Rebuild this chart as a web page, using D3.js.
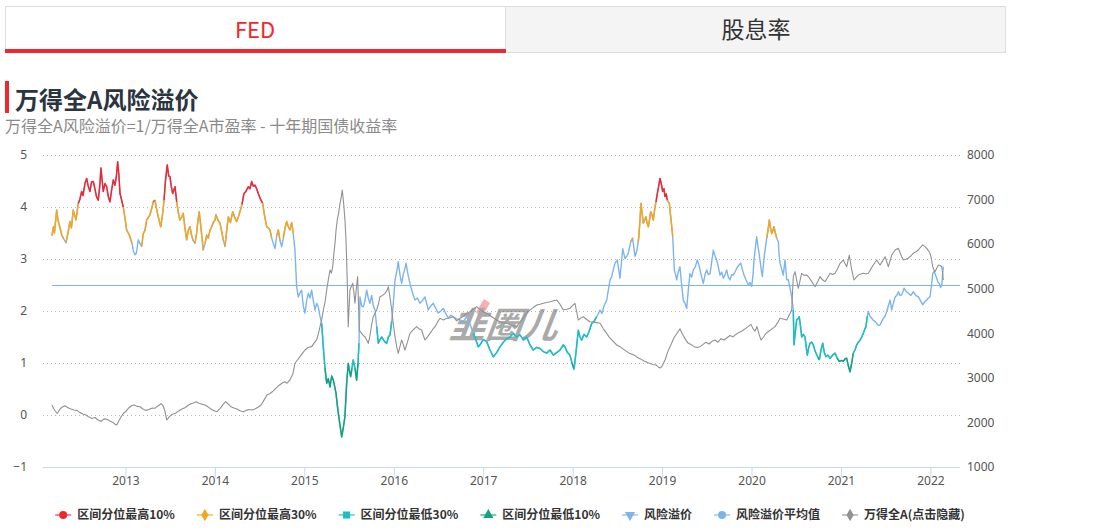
<!DOCTYPE html>
<html><head><meta charset="utf-8">
<script src="https://cdn.jsdelivr.net/npm/d3@7"></script>
<style>
body{margin:0;background:#fff;}
svg{font-family:"Noto Sans CJK SC","Noto Sans",sans-serif;}
</style></head>
<body><svg id="c" width="1109" height="530"></svg>
<script>
// ---------- DATA ----------
const tabLabels = ["FED", "股息率"];
const titleText = "万得全A风险溢价";
const subtitleText = "万得全A风险溢价=1/万得全A市盈率 - 十年期国债收益率";
const legendNames = ["区间分位最高10%","区间分位最高30%","区间分位最低30%","区间分位最低10%","风险溢价","风险溢价平均值","万得全A(点击隐藏)"];
const leftTicks = [-1,0,1,2,3,4,5];
const rightTicks = [1000,2000,3000,4000,5000,6000,7000,8000];
const yearTicks = [2013,2014,2015,2016,2017,2018,2019,2020,2021,2022];
const xDomain = [2012.078, 2022.331];
const meanValue = 2.49;

// risk premium (decimal year, %)
const erpDates = [
2012.178,2012.195,2012.206,2012.231,2012.245,2012.268,2012.290,2012.312,2012.335,2012.357,2012.379,2012.396,2012.416,2012.447,2012.472,2012.491,2012.510,2012.525,2012.547,2012.566,2012.581,2012.603,2012.620,2012.640,2012.659,2012.676,2012.696,2012.715,2012.726,2012.737,2012.752,2012.771,2012.790,2012.808,2012.827,2012.843,2012.864,2012.883,2012.899,2012.913,2012.927,2012.939,2012.955,2012.975,2012.994,
2013.013,2013.031,2013.050,2013.073,2013.089,2013.106,2013.123,2013.143,2013.162,2013.181,2013.199,2013.218,2013.237,2013.255,2013.274,2013.293,2013.311,2013.330,2013.349,2013.367,2013.394,2013.411,2013.431,2013.447,2013.467,2013.483,2013.498,2013.512,2013.528,2013.554,2013.573,2013.590,2013.609,2013.628,2013.646,2013.665,2013.684,2013.702,2013.721,2013.740,2013.758,2013.777,2013.796,2013.811,2013.825,2013.844,2013.870,2013.889,2013.908,2013.926,2013.945,2013.964,2013.982,
2014.001,2014.012,2014.034,2014.057,2014.079,2014.096,2014.113,2014.132,2014.150,2014.174,2014.199,2014.221,2014.243,2014.261,2014.280,2014.303,2014.325,2014.347,2014.373,2014.392,2014.411,2014.429,2014.448,2014.467,2014.485,2014.510,2014.534,2014.554,2014.579,2014.597,2014.616,2014.635,2014.653,2014.672,2014.691,2014.709,2014.728,2014.747,2014.765,2014.784,2014.803,2014.820,2014.839,2014.858,2014.876,2014.895,2014.914,2014.932,2014.951,2014.970,2014.988,
2015.007,2015.026,2015.044,2015.063,2015.082,2015.100,2015.119,2015.138,2015.156,2015.175,2015.194,2015.212,2015.231,2015.250,2015.268,2015.287,2015.306,2015.324,2015.339,2015.354,2015.368,2015.380,2015.399,2015.418,2015.435,2015.454,2015.473,2015.491,2015.505,2015.518,2015.533,2015.547,2015.566,2015.585,2015.600,2015.611,2015.622,2015.641,2015.659,2015.678,2015.697,2015.715,2015.734,2015.753,2015.771,2015.790,2015.809,2015.827,2015.846,2015.865,2015.883,2015.902,2015.921,2015.939,2015.958,2015.977,2015.995,
2016.014,2016.033,2016.050,2016.069,2016.088,2016.106,2016.122,2016.137,2016.159,2016.181,2016.209,2016.237,2016.265,2016.293,2016.321,2016.349,2016.386,2016.414,2016.442,2016.470,2016.498,2016.526,2016.554,2016.582,2016.610,2016.637,2016.665,2016.703,2016.740,2016.777,2016.815,2016.852,2016.889,2016.908,2016.927,2016.945,2016.964,
2017.001,2017.039,2017.076,2017.113,2017.151,2017.188,2017.225,2017.263,2017.299,2017.336,2017.374,2017.411,2017.448,2017.486,2017.523,2017.560,2017.598,2017.635,2017.672,2017.710,2017.747,2017.784,2017.822,2017.859,2017.895,2017.914,2017.942,2017.970,2017.993,
2018.015,2018.037,2018.063,2018.082,2018.101,2018.127,2018.157,2018.183,2018.213,2018.239,2018.269,2018.287,2018.306,2018.328,2018.351,2018.381,2018.399,2018.418,2018.437,2018.455,2018.474,2018.499,2018.515,2018.529,2018.544,2018.560,2018.585,2018.604,2018.622,2018.649,2018.671,2018.686,2018.697,2018.716,2018.734,2018.745,2018.753,2018.764,2018.775,2018.790,2018.806,2018.820,2018.831,2018.846,2018.859,2018.873,2018.887,2018.902,2018.913,2018.921,2018.932,2018.947,2018.962,2018.977,2018.991,
2019.007,2019.021,2019.033,2019.047,2019.058,2019.081,2019.094,2019.108,2019.119,2019.128,2019.137,2019.150,2019.163,2019.181,2019.200,2019.219,2019.237,2019.256,2019.275,2019.293,2019.312,2019.331,2019.349,2019.371,2019.394,2019.409,2019.424,2019.443,2019.461,2019.480,2019.499,2019.517,2019.536,2019.555,2019.573,2019.592,2019.611,2019.629,2019.648,2019.667,2019.685,2019.704,2019.723,2019.740,2019.759,2019.778,2019.796,2019.815,2019.834,2019.857,2019.879,2019.897,2019.916,2019.938,2019.964,2019.983,
2020.002,2020.017,2020.028,2020.042,2020.058,2020.076,2020.095,2020.108,2020.121,2020.131,2020.140,2020.154,2020.170,2020.184,2020.199,2020.212,2020.226,2020.240,2020.251,2020.266,2020.282,2020.300,2020.307,2020.319,2020.338,2020.355,2020.374,2020.394,2020.411,2020.430,2020.449,2020.467,2020.475,2020.490,2020.505,2020.520,2020.534,2020.548,2020.561,2020.579,2020.598,2020.612,2020.624,2020.640,2020.654,2020.673,2020.691,2020.707,2020.721,2020.740,2020.758,2020.777,2020.796,2020.814,2020.833,2020.855,2020.878,2020.906,2020.934,2020.956,2020.982,
2021.004,2021.026,2021.045,2021.064,2021.082,2021.101,2021.120,2021.138,2021.157,2021.176,2021.194,2021.213,2021.232,2021.250,2021.266,2021.280,2021.294,2021.306,2021.325,2021.344,2021.362,2021.381,2021.400,2021.418,2021.437,2021.456,2021.474,2021.493,2021.512,2021.530,2021.549,2021.568,2021.586,2021.605,2021.624,2021.642,2021.660,2021.679,2021.694,2021.705,2021.728,2021.753,2021.781,2021.809,2021.837,2021.865,2021.890,2021.914,2021.937,2021.959,2021.977,2021.996,
2022.013,2022.026,2022.041,2022.055,2022.071,2022.085,2022.100,2022.113,2022.127,2022.136,2022.145
];
const erpValues = [
3.45,3.62,3.5,3.94,3.75,3.6,3.45,3.38,3.31,3.5,3.72,3.6,3.94,3.75,4.07,4.15,4.3,4.22,4.45,4.55,4.42,4.3,4.48,4.49,4.35,4.2,4.13,4.45,4.75,4.55,4.3,4.45,4.39,4.2,4.1,4.3,4.52,4.42,4.6,4.87,4.6,4.26,4.15,4.0,3.8,
3.56,3.5,3.43,3.3,3.15,3.08,3.12,3.37,3.3,3.24,3.49,3.55,3.75,3.8,3.85,3.97,4.1,4.13,3.95,3.81,3.62,3.8,4.13,4.5,4.81,4.6,4.58,4.4,4.26,4.39,4.1,3.9,3.75,3.8,3.88,3.6,3.37,3.55,3.62,3.45,3.35,3.3,3.5,3.75,3.91,3.6,3.17,3.3,3.46,3.4,3.55,3.62,3.7,
3.75,3.85,3.75,3.69,3.5,3.35,3.24,3.55,3.81,3.7,3.91,3.8,3.72,3.8,3.91,4.05,4.26,4.3,4.39,4.35,4.49,4.4,4.42,4.35,4.26,4.15,4.07,3.85,3.62,3.6,3.56,3.4,3.3,3.2,3.45,3.56,3.35,3.24,3.4,3.6,3.72,3.62,3.56,3.7,3.49,3.17,2.47,2.27,2.35,2.4,2.1,
1.96,2.2,2.34,2.25,2.4,2.2,2.02,2.15,2.08,1.9,1.76,1.31,0.9,0.61,0.7,0.54,0.75,0.67,0.55,0.42,0.2,0.03,-0.2,-0.42,-0.25,-0.03,0.61,0.99,0.85,0.74,0.9,1.06,0.9,0.67,1.0,1.38,2.27,2.1,2.08,2.2,2.4,2.25,2.15,2.3,2.1,2.02,1.7,1.38,1.45,1.5,1.45,1.4,1.38,1.5,1.54,1.8,2.15,
2.6,2.75,2.95,2.7,2.53,2.7,2.8,2.92,2.7,2.53,2.35,2.21,2.25,2.15,2.2,2.27,2.02,2.1,2.15,2.05,1.96,2.0,2.05,1.95,1.86,1.92,1.89,1.85,1.83,1.8,1.89,1.75,1.57,1.5,1.4,1.31,1.35,
1.45,1.41,1.25,1.12,1.2,1.31,1.4,1.47,1.5,1.57,1.5,1.54,1.45,1.5,1.35,1.25,1.3,1.28,1.22,1.19,1.25,1.15,1.2,1.25,1.35,1.31,1.2,1.15,1.0,
0.88,1.2,1.63,1.5,1.44,1.55,1.5,1.6,1.76,1.8,1.89,1.95,2.02,1.95,2.1,2.21,2.4,2.6,2.66,2.8,2.92,2.98,2.8,2.63,2.9,3.2,3.01,3.05,3.11,3.33,3.4,3.2,3.05,3.15,3.33,3.55,3.75,4.07,3.9,3.69,3.75,3.81,3.7,3.62,3.75,3.91,3.85,3.75,3.9,4.0,4.1,4.26,4.4,4.55,4.45,
4.3,4.35,4.2,4.25,4.13,4.07,3.85,3.62,3.43,3.1,2.79,2.7,2.6,2.75,2.85,2.5,2.21,2.15,2.05,2.4,2.72,2.65,2.79,2.85,2.98,2.9,2.79,2.65,2.53,2.7,2.79,2.7,2.72,2.95,3.17,3.05,2.98,2.85,2.69,2.75,2.63,2.7,2.79,2.65,2.6,2.7,2.69,2.75,2.82,2.88,2.92,2.8,2.69,2.6,2.5,2.55,
2.47,2.7,2.98,3.2,3.43,3.2,2.98,2.8,2.66,2.85,3.01,3.2,3.4,3.55,3.75,3.6,3.49,3.55,3.62,3.5,3.4,3.33,3.1,2.92,2.8,2.69,2.98,2.6,2.6,2.45,2.27,2.02,1.35,1.6,1.83,1.85,1.89,1.7,1.5,1.55,1.5,1.3,1.15,1.3,1.38,1.4,1.35,1.25,1.19,1.12,1.06,1.25,1.38,1.2,1.12,1.15,1.09,1.15,1.19,1.1,1.03,
1.05,1.03,1.08,1.09,0.95,0.83,1.0,1.19,1.25,1.35,1.4,1.44,1.5,1.57,1.65,1.7,1.9,1.99,1.9,1.86,1.82,1.8,1.76,1.72,1.73,1.8,1.86,1.9,1.99,2.1,2.21,2.02,2.15,2.27,2.3,2.37,2.3,2.31,2.38,2.44,2.38,2.34,2.3,2.37,2.3,2.27,2.2,2.12,2.18,2.21,2.25,2.27,
2.5,2.72,2.76,2.7,2.63,2.55,2.53,2.45,2.5,2.7,2.85
];

// Wind All A index (decimal year, points)
const indexDates = [
2012.178,2012.200,2012.217,2012.240,2012.268,2012.290,2012.323,2012.357,2012.391,2012.424,2012.458,2012.491,2012.525,2012.558,2012.592,2012.625,2012.659,2012.692,2012.726,2012.760,2012.793,2012.827,2012.860,2012.883,2012.902,2012.922,2012.950,2012.978,
2013.006,2013.039,2013.073,2013.101,2013.129,2013.162,2013.196,2013.229,2013.263,2013.296,2013.330,2013.363,2013.397,2013.419,2013.442,2013.462,2013.486,2013.520,2013.559,2013.598,2013.632,2013.665,2013.699,2013.732,2013.766,2013.792,2013.822,2013.855,2013.889,2013.923,2013.956,2013.990,
2014.023,2014.057,2014.090,2014.120,2014.146,2014.180,2014.220,2014.247,2014.280,2014.318,2014.347,2014.381,2014.418,2014.448,2014.482,2014.516,2014.549,2014.582,2014.616,2014.649,2014.681,2014.716,2014.750,2014.780,2014.806,2014.839,2014.873,2014.895,2014.923,2014.951,2014.979,
2015.007,2015.041,2015.082,2015.108,2015.138,2015.158,2015.175,2015.194,2015.212,2015.231,2015.250,2015.268,2015.287,2015.303,2015.317,2015.331,2015.343,2015.354,2015.368,2015.384,2015.399,2015.412,2015.424,2015.440,2015.454,2015.466,2015.473,2015.482,2015.491,2015.501,2015.510,2015.525,2015.541,2015.555,2015.566,2015.581,2015.596,2015.605,2015.614,2015.628,2015.641,2015.659,2015.678,2015.697,2015.715,2015.734,2015.753,2015.771,2015.790,2015.809,2015.827,2015.846,2015.874,2015.902,2015.921,2015.939,2015.958,2015.977,2015.995,
2016.014,2016.033,2016.050,2016.069,2016.088,2016.106,2016.125,2016.153,2016.181,2016.218,2016.256,2016.282,2016.312,2016.330,2016.349,2016.377,2016.405,2016.433,2016.461,2016.489,2016.517,2016.554,2016.592,2016.629,2016.665,2016.703,2016.740,2016.777,2016.815,2016.852,2016.889,2016.927,2016.964,
2017.001,2017.039,2017.076,2017.113,2017.151,2017.188,2017.225,2017.263,2017.299,2017.336,2017.374,2017.411,2017.448,2017.486,2017.523,2017.560,2017.598,2017.635,2017.672,2017.710,2017.747,2017.784,2017.822,2017.859,2017.895,2017.933,2017.970,2017.998,
2018.026,2018.043,2018.063,2018.091,2018.119,2018.157,2018.194,2018.231,2018.269,2018.306,2018.343,2018.381,2018.406,2018.437,2018.462,2018.493,2018.529,2018.563,2018.597,2018.630,2018.664,2018.697,2018.731,2018.764,2018.798,2018.831,2018.865,2018.898,2018.932,2018.954,2018.977,2018.999,
2019.033,2019.066,2019.100,2019.133,2019.167,2019.200,2019.223,2019.256,2019.290,2019.323,2019.357,2019.390,2019.424,2019.458,2019.491,2019.525,2019.558,2019.592,2019.625,2019.659,2019.692,2019.726,2019.759,2019.793,2019.827,2019.860,2019.894,2019.927,2019.961,2019.994,
2020.017,2020.039,2020.061,2020.084,2020.106,2020.128,2020.162,2020.196,2020.229,2020.263,2020.296,2020.319,2020.352,2020.394,2020.419,2020.449,2020.467,2020.486,2020.523,2020.561,2020.587,2020.617,2020.643,2020.673,2020.710,2020.738,2020.766,2020.794,2020.822,2020.850,2020.878,2020.906,2020.934,2020.962,2020.990,
2021.026,2021.064,2021.093,2021.120,2021.146,2021.168,2021.194,2021.224,2021.250,2021.280,2021.306,2021.336,2021.362,2021.400,2021.437,2021.465,2021.493,2021.530,2021.568,2021.605,2021.642,2021.672,2021.697,2021.728,2021.753,2021.783,2021.809,2021.839,2021.865,2021.890,2021.914,2021.937,2021.959,2021.979,2021.996,
2022.013,2022.026,2022.041,2022.052,2022.071,2022.089,2022.108,2022.127,2022.136,2022.145
];
const indexValues = [
2391,2300,2250,2205,2300,2340,2375,2330,2300,2280,2270,2220,2190,2167,2120,2090,2110,2060,2020,2080,2070,2030,2000,1960,1942,2020,2120,2205,
2250,2330,2380,2391,2360,2353,2300,2270,2290,2320,2317,2370,2420,2380,2250,2054,2120,2180,2205,2260,2300,2330,2380,2420,2440,2465,2430,2410,2391,2350,2300,2260,
2241,2310,2400,2465,2420,2350,2317,2300,2260,2241,2270,2290,2279,2300,2340,2391,2500,2615,2650,2700,2765,2830,2880,2914,2880,2952,3100,3327,3400,3475,3550,
3625,3680,3700,3780,3850,4000,4148,4300,4522,4700,4971,5200,5420,5350,5494,5800,6019,6300,6542,6700,6916,7050,7215,6900,6542,6100,5644,5000,4148,4600,4971,5050,5121,4900,4673,5000,5270,4700,4074,4030,3999,3950,3924,3850,3775,3950,4200,4372,4450,4522,4650,4821,4850,4897,4950,5045,4800,4522,4200,
3924,3700,3551,3700,3850,3750,3625,3800,3999,4080,4148,4100,4074,3950,3850,3920,3999,4080,4148,4250,4336,4300,4336,4350,4372,4280,4336,4380,4448,4484,4540,4597,4530,
4480,4448,4400,4350,4298,4260,4240,4224,4200,4170,4148,4250,4350,4448,4520,4580,4635,4650,4673,4690,4709,4730,4747,4650,4522,4540,4560,4620,
4673,4500,4298,4340,4372,4310,4260,4250,4240,4224,4100,3999,3920,3850,3800,3737,3700,3650,3600,3560,3530,3500,3450,3420,3380,3350,3320,3300,3290,3250,3220,3260,
3400,3600,3750,3900,4000,4100,4000,3880,3780,3750,3700,3680,3700,3750,3800,3760,3820,3850,3800,3880,3850,3900,3950,3920,3980,4020,4050,4100,4150,4200,
4100,4050,4150,3980,3850,3900,4000,4050,4100,4150,4250,4336,4320,4298,4400,4522,5270,5382,5010,5346,5300,5308,5250,5158,5045,5150,5270,5200,5158,5250,5346,5320,5346,5450,5570,
5644,5494,5756,5420,5196,5250,5308,5330,5346,5330,5346,5450,5532,5644,5532,5620,5718,5494,5756,5868,5906,5750,5644,5660,5682,5740,5794,5830,5868,5930,5981,5950,5906,5850,5794,
5650,5494,5420,5382,5460,5532,5520,5494,5350,5196
];

// colour-zone boundaries: [from year, top10%, top30%, bottom30%, bottom10%]
const zoneStart = [2012.0, 2014.9, 2015.97, 2017.0, 2020.0, 2020.16, 2021.29];
const zoneTop10 = [4.06, 9, 9, 4.15, 4.15, 4.15, 4.15];
const zoneTop30 = [3.36, 3.36, 3.36, 3.35, 3.45, 3.38, 3.38];
const zoneLow30 = [-9, 1.8, 1.6, 1.85, 1.92, 1.92, 1.7];
const zoneLow10 = [-9, 0.95, 0.9, 1.0, 1.1, 1.1, 1.0];

// ---------- STYLE ----------
const C = {red:"#f1262f", orange:"#f4a620", cyan:"#1bbfc2", green:"#12a37d", blue:"#7cb5ec", gray:"#919191"};
const zoneColor = {h10:C.red, h30:C.orange, l30:C.cyan, l10:C.green};

const svg = d3.select("#c");

// ---------- TABS ----------
const tabG = svg.append("g");
tabG.append("rect").attr("x",5.5).attr("y",6.5).attr("width",1000).attr("height",46).attr("fill","#fff").attr("stroke","#ddd");
tabG.append("rect").attr("x",506).attr("y",7).attr("width",499).attr("height",45).attr("fill","#f4f4f4");
tabG.append("line").attr("x1",505.5).attr("x2",505.5).attr("y1",7).attr("y2",52).attr("stroke","#ddd");
tabG.append("rect").attr("x",5).attr("y",49).attr("width",501).attr("height",4).attr("fill",C.red);
tabG.append("text").attr("x",255).attr("y",38).attr("text-anchor","middle").attr("font-size",22).attr("fill",C.red).text(tabLabels[0]);
tabG.append("text").attr("x",756).attr("y",38).attr("text-anchor","middle").attr("font-size",23).attr("fill","#333").text(tabLabels[1]);

// ---------- TITLE ----------
svg.append("rect").attr("x",5).attr("y",81).attr("width",4).attr("height",32).attr("fill",C.red);
svg.append("text").attr("x",15).attr("y",109).attr("font-size",24).attr("font-weight","bold").attr("fill","#2c3440").text(titleText);
svg.append("text").attr("x",5).attr("y",132).attr("font-size",16).attr("fill","#8a8a8a").text(subtitleText);

// ---------- SCALES ----------
const x = d3.scaleLinear().domain(xDomain).range([43,960]);
const yL = d3.scaleLinear().domain([-1,5]).range([467,155]);
const yR = d3.scaleLinear().domain([1000,8000]).range([467,155]);

// grid
svg.append("g").selectAll("line").data(leftTicks.filter(d=>d>-1)).join("line")
  .attr("x1",43).attr("x2",960).attr("y1",d=>Math.round(yL(d))+0.5).attr("y2",d=>Math.round(yL(d))+0.5)
  .attr("stroke","#b8b8b8").attr("stroke-dasharray","1,3");

// axes
const axL = svg.append("g").attr("transform","translate(43,0)")
  .call(d3.axisLeft(yL).tickValues(leftTicks).tickFormat(d3.format("d")).tickSize(0).tickPadding(16));
const axR = svg.append("g").attr("transform","translate(960,0)")
  .call(d3.axisRight(yR).tickValues(rightTicks).tickFormat(d3.format("d")).tickSize(0).tickPadding(7));
const axB = svg.append("g").attr("transform","translate(0,467.5)")
  .call(d3.axisBottom(x).tickValues(yearTicks).tickFormat(d3.format("d")).tickSize(10).tickPadding(-1));
[axL,axR].forEach(a=>a.select(".domain").remove());
axB.select(".domain").attr("stroke","#ccd6eb").attr("d","M43,0H960");
axB.selectAll(".tick line").attr("stroke","#ccd6eb");
svg.selectAll(".tick text").attr("font-size",12).attr("fill","#555").attr("font-family","'Noto Sans','Noto Sans CJK SC',sans-serif");

// ---------- WATERMARK ----------
const wm = svg.append("g").attr("opacity",0.55);
wm.append("path").attr("d","M476,312 L484,299 L490,303 L481,319 Z").attr("fill","#f07070");
wm.append("text").attr("x",449).attr("y",338).attr("font-size",36).attr("font-weight","bold").attr("font-style","italic")
  .attr("fill","#666").attr("transform","skewX(-8) translate(47,0)").text("韭圈儿");

// ---------- SERIES ----------
const erp = erpDates.map((t,i)=>({t, v:erpValues[i]}));
const idx = indexDates.map((t,i)=>({t, v:indexValues[i]}));

function zoneIdx(t){ let k=0; zoneStart.forEach((s,i)=>{ if(t>=s) k=i; }); return k; }
function cls(t,v){
  const k = zoneIdx(t);
  if (v>=zoneTop10[k]) return "h10";
  if (v>=zoneTop30[k]) return "h30";
  if (v<=zoneLow10[k]) return "l10";
  if (v<=zoneLow30[k]) return "l30";
  return "mid";
}
const runs=[]; let cur=null;
for(let i=0;i<erp.length-1;i++){
  const a=erp[i], b=erp[i+1];
  const ca=cls(a.t,a.v), cb=cls(b.t,b.v);
  const c = ca===cb ? ca : cls((a.t+b.t)/2,(a.v+b.v)/2);
  if(cur && cur.c===c) cur.pts.push(b); else { cur={c, pts:[a,b]}; runs.push(cur); }
}

const lineL = d3.line().x(d=>x(d.t)).y(d=>yL(d.v));
const lineR = d3.line().x(d=>x(d.t)).y(d=>yR(d.v));

svg.append("path").datum(erp).attr("d",lineL).attr("fill","none").attr("stroke",C.blue).attr("stroke-width",1.4).attr("stroke-linejoin","round");
svg.append("g").selectAll("path").data(runs.filter(r=>r.c!=="mid")).join("path")
  .attr("d",r=>lineL(r.pts)).attr("fill","none").attr("stroke",r=>zoneColor[r.c]).attr("stroke-width",1.5).attr("stroke-linejoin","round");
svg.append("path").datum([{t:erpDates[0],v:meanValue},{t:xDomain[1],v:meanValue}]).attr("d",lineL)
  .attr("fill","none").attr("stroke",C.blue).attr("stroke-width",1).attr("shape-rendering","crispEdges");
svg.append("path").datum(idx).attr("d",lineR).attr("fill","none").attr("stroke",C.gray).attr("stroke-width",1.1).attr("stroke-linejoin","round");

// ---------- LEGEND ----------
const symColors=[C.red,C.orange,C.cyan,C.green,C.blue,C.blue,C.gray];
const symTypes=[d3.symbolCircle,d3.symbolDiamond,d3.symbolSquare,d3.symbolTriangle,d3.symbolTriangle,d3.symbolCircle,d3.symbolDiamond];
const symSizes=[50,45,50,45,45,50,45];
const lg = svg.append("g");
const items = lg.selectAll("g").data(legendNames).join("g");
items.append("text").attr("x",22).attr("y",519).attr("font-size",12).attr("font-weight","bold").attr("fill","#333").text(d=>d);
const widths=[]; items.each(function(){ widths.push(this.querySelector("text").getComputedTextLength()); });
const gap=22; const total = d3.sum(widths)+widths.length*22+(widths.length-1)*gap;
let px = 510 - total/2;
items.each(function(d,i){
  const g=d3.select(this).attr("transform",`translate(${px},0)`);
  g.append("line").attr("x1",0).attr("x2",16).attr("y1",515).attr("y2",515).attr("stroke",symColors[i]).attr("stroke-width",2).attr("opacity",0.55);
  g.append("path").attr("d",d3.symbol().type(symTypes[i]).size(symSizes[i])())
    .attr("transform",`translate(8,515)${i===4?" rotate(180)":""}`).attr("fill",symColors[i]);
  px += 22 + widths[i] + gap;
});
</script>
</body></html>
